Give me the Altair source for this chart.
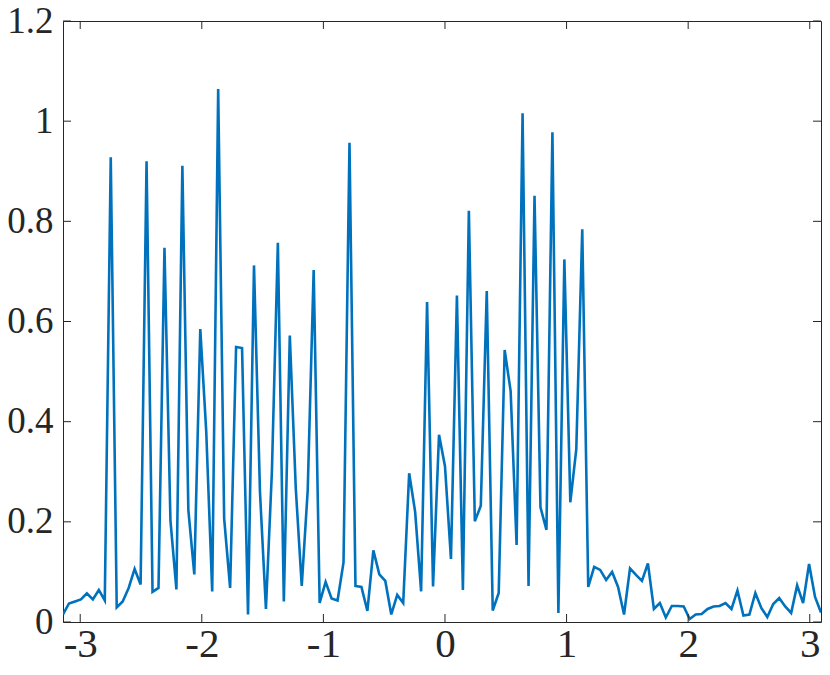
import altair as alt
import numpy as np
import pandas as pd

# sample grid: 128 points from -pi with step 2*pi/128
n_points = 128
x_start = -np.pi
x_step = 2 * np.pi / n_points

values = [
    0.015, 0.037, 0.041, 0.045, 0.057, 0.045, 0.064, 0.043, 0.928, 0.029,
    0.041, 0.068, 0.106, 0.075, 0.920, 0.060, 0.068, 0.747, 0.203, 0.065,
    0.911, 0.224, 0.095, 0.585, 0.380, 0.061, 1.064, 0.207, 0.068, 0.549,
    0.547, 0.015, 0.712, 0.260, 0.026, 0.300, 0.757, 0.041, 0.572, 0.267,
    0.072, 0.263, 0.703, 0.038, 0.080, 0.047, 0.043, 0.119, 0.957, 0.072,
    0.070, 0.022, 0.143, 0.095, 0.082, 0.015, 0.054, 0.038, 0.297, 0.220,
    0.061, 0.639, 0.071, 0.374, 0.311, 0.126, 0.652, 0.064, 0.821, 0.201,
    0.232, 0.661, 0.023, 0.058, 0.543, 0.461, 0.154, 1.016, 0.072, 0.851,
    0.229, 0.184, 0.978, 0.018, 0.724, 0.239, 0.345, 0.784, 0.070, 0.110,
    0.104, 0.084, 0.100, 0.070, 0.015, 0.107, 0.094, 0.082, 0.117, 0.026,
    0.038, 0.009, 0.032, 0.032, 0.031, 0.006, 0.015, 0.016, 0.026, 0.031,
    0.032, 0.038, 0.026, 0.063, 0.013, 0.015, 0.058, 0.028, 0.010, 0.036,
    0.048, 0.031, 0.018, 0.073, 0.038, 0.116, 0.050, 0.019,
]

x_ticks = [-3, -2, -1, 0, 1, 2, 3]
y_ticks = [0, 0.2, 0.4, 0.6, 0.8, 1, 1.2]

xs = [x_start + k * x_step for k in range(len(values))]
df = pd.DataFrame({"x": xs, "y": values})
df_xt = pd.DataFrame({"x": x_ticks})
df_yt = pd.DataFrame({"y": y_ticks})

W, H = 758, 601
TICK = 8
AXIS_COLOR = "#262626"
FONT = "'Liberation Serif', 'Times New Roman', Times, serif"

x_scale = alt.Scale(domain=[xs[0], xs[-1]], nice=False, zero=False)
y_scale = alt.Scale(domain=[0, 1.2], nice=False, zero=True)

x_axis = alt.Axis(values=x_ticks, labelExpr="'' + datum.value", title=None,
                  domain=False, ticks=False, grid=False, labelPadding=2,
                  labelFont=FONT, labelFontSize=41, labelColor=AXIS_COLOR)
y_axis = alt.Axis(values=y_ticks, labelExpr="'' + datum.value", title=None,
                  domain=False, ticks=False, grid=False, labelPadding=10,
                  labelFont=FONT, labelFontSize=37, labelColor=AXIS_COLOR)

X = lambda: alt.X("x:Q", scale=x_scale, axis=x_axis)
Y = lambda: alt.Y("y:Q", scale=y_scale, axis=y_axis)

line = alt.Chart(df).mark_line(color="#0072BD", strokeWidth=2.6, clip=True).encode(
    x=X(), y=Y()
)

tick_style = dict(color=AXIS_COLOR, strokeWidth=1)
xt_bottom = alt.Chart(df_xt).mark_rule(**tick_style).encode(
    x=X(), y=alt.value(H), y2=alt.value(H - TICK))
xt_top = alt.Chart(df_xt).mark_rule(**tick_style).encode(
    x=X(), y=alt.value(0), y2=alt.value(TICK))
yt_left = alt.Chart(df_yt).mark_rule(**tick_style).encode(
    y=Y(), x=alt.value(0), x2=alt.value(TICK))
yt_right = alt.Chart(df_yt).mark_rule(**tick_style).encode(
    y=Y(), x=alt.value(W), x2=alt.value(W - TICK))

chart = alt.layer(line, xt_bottom, xt_top, yt_left, yt_right).properties(
    width=W, height=H,
    autosize=alt.AutoSizeParams(type="none"),
    padding={"left": 55, "top": 13, "right": 1, "bottom": 44},
    background="white",
).configure_view(stroke=AXIS_COLOR, strokeWidth=1)

chart.save("out.html", embed_options={"renderer": "svg", "actions": False})
